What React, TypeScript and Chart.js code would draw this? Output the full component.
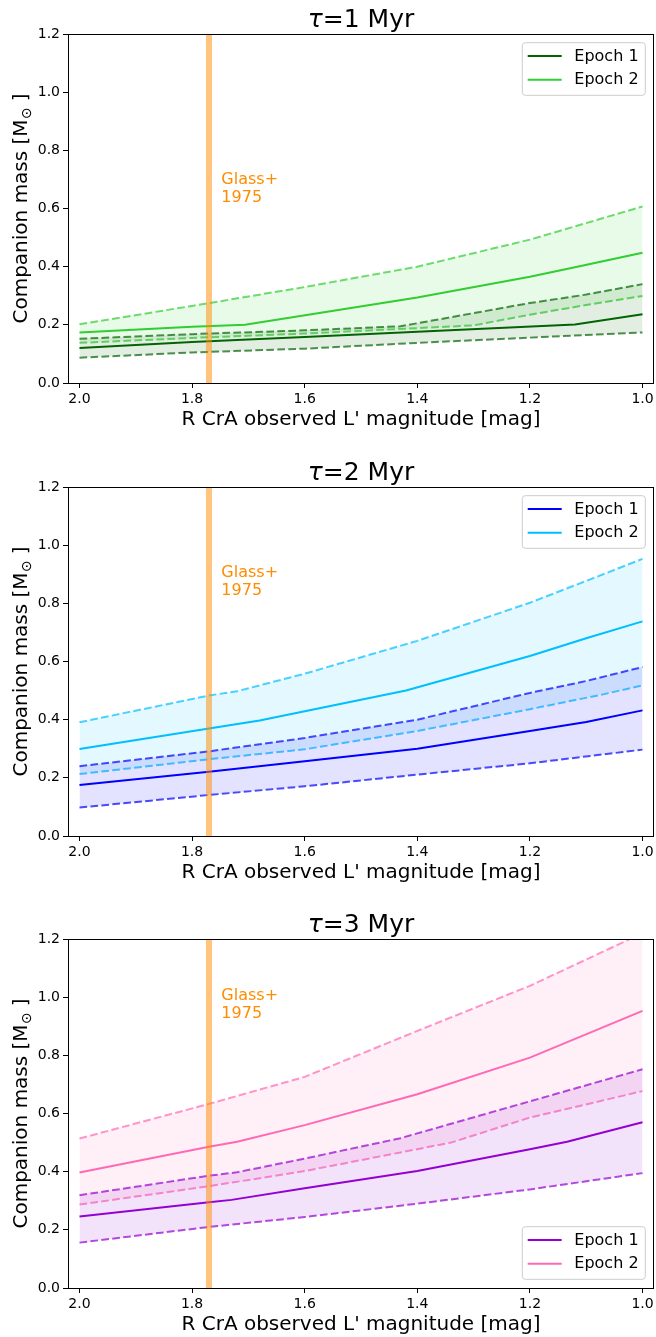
import { useEffect, useRef } from "react";
import { Chart, registerables } from "chart.js";

Chart.register(...registerables);

// ---------- data ----------
const xTickValues = [1.0, 1.2, 1.4, 1.6, 1.8, 2.0];
const yTickValues = [0.0, 0.2, 0.4, 0.6, 0.8, 1.0, 1.2];
const legendLabels = ["Epoch 1", "Epoch 2"];
const ages = ["1", "2", "3"];
const glassMag = 1.77;
const glassTextY = [0.7, 0.905, 1.003];

// tau = 1 Myr
const t1E1MedX = [2.0, 1.8, 1.6, 1.4, 1.12, 1.0];
const t1E1MedY = [0.12, 0.141, 0.158, 0.176, 0.201, 0.236];
const t1E1LoX = [2.0, 1.8, 1.6, 1.4, 1.2, 1.0];
const t1E1LoY = [0.087, 0.105, 0.118, 0.138, 0.156, 0.174];
const t1E1UpX = [2.0, 1.8, 1.6, 1.43, 1.2, 1.1, 1.0];
const t1E1UpY = [0.152, 0.168, 0.181, 0.195, 0.275, 0.304, 0.34];
const t1E2MedX = [2.0, 1.8, 1.706, 1.4, 1.2, 1.12, 1.0];
const t1E2MedY = [0.174, 0.193, 0.2, 0.294, 0.365, 0.398, 0.448];
const t1E2LoX = [2.0, 1.8, 1.6, 1.3, 1.2, 1.1, 1.0];
const t1E2LoY = [0.138, 0.155, 0.17, 0.198, 0.235, 0.268, 0.299];
const t1E2UpX = [2.0, 1.8, 1.6, 1.4, 1.2, 1.0];
const t1E2UpY = [0.202, 0.265, 0.33, 0.4, 0.493, 0.607];

// tau = 2 Myr
const t2E1MedX = [2.0, 1.77, 1.6, 1.4, 1.2, 1.1, 1.0];
const t2E1MedY = [0.175, 0.221, 0.257, 0.3, 0.361, 0.392, 0.432];
const t2E1LoX = [2.0, 1.77, 1.6, 1.4, 1.2, 1.0];
const t2E1LoY = [0.098, 0.141, 0.171, 0.211, 0.25, 0.297];
const t2E1UpX = [2.0, 1.77, 1.6, 1.4, 1.2, 1.1, 1.0];
const t2E1UpY = [0.24, 0.291, 0.337, 0.4, 0.492, 0.533, 0.581];
const t2E2MedX = [2.0, 1.77, 1.68, 1.42, 1.2, 1.1, 1.0];
const t2E2MedY = [0.299, 0.37, 0.397, 0.5, 0.619, 0.68, 0.738];
const t2E2LoX = [2.0, 1.77, 1.6, 1.4, 1.2, 1.07, 1.0];
const t2E2LoY = [0.213, 0.264, 0.298, 0.361, 0.436, 0.487, 0.518];
const t2E2UpX = [2.0, 1.77, 1.72, 1.6, 1.4, 1.2, 1.1, 1.0];
const t2E2UpY = [0.391, 0.483, 0.498, 0.558, 0.671, 0.802, 0.877, 0.953];

// tau = 3 Myr
const t3E1MedX = [2.0, 1.77, 1.73, 1.6, 1.4, 1.2, 1.134, 1.0];
const t3E1MedY = [0.246, 0.295, 0.303, 0.343, 0.402, 0.477, 0.503, 0.57];
const t3E1LoX = [2.0, 1.77, 1.6, 1.4, 1.2, 1.0];
const t3E1LoY = [0.156, 0.21, 0.244, 0.29, 0.339, 0.395];
const t3E1UpX = [2.0, 1.77, 1.72, 1.6, 1.43, 1.2, 1.0];
const t3E1UpY = [0.319, 0.386, 0.398, 0.445, 0.515, 0.642, 0.752];
const t3E2MedX = [2.0, 1.77, 1.72, 1.6, 1.4, 1.2, 1.0];
const t3E2MedY = [0.397, 0.486, 0.503, 0.56, 0.666, 0.792, 0.953];
const t3E2LoX = [2.0, 1.77, 1.6, 1.34, 1.2, 1.0];
const t3E2LoY = [0.287, 0.35, 0.402, 0.5, 0.586, 0.677];
const t3E2UpX = [2.0, 1.77, 1.6, 1.4, 1.2, 1.0];
const t3E2UpY = [0.514, 0.633, 0.726, 0.884, 1.039, 1.22];

const epochColors = [
  ["#006400", "#32cd32"],
  ["#0000ff", "#00bfff"],
  ["#9400d3", "#ff69b4"],
];
const legendAtBottom = [false, false, true];

// ---------- layout ----------
const FONT = "'DejaVu Sans', 'Liberation Sans', sans-serif";
const canvasTops = [0, 453, 905];
const canvasHeights = [453, 452, 432];
const PLOT_TOP = 34;
const PLOT_BOTTOM = 383;
const PLOT_LEFT = 68;
const PLOT_RIGHT = 654;

function rgba(hex: string, a: number) {
  const r = parseInt(hex.slice(1, 3), 16);
  const g = parseInt(hex.slice(3, 5), 16);
  const b = parseInt(hex.slice(5, 7), 16);
  return `rgba(${r},${g},${b},${a})`;
}

function pts(xs: number[], ys: number[]) {
  return xs.map((x, i) => ({ x, y: ys[i] }));
}

const panelData = [
  [
    [t1E1LoX, t1E1LoY, t1E1UpX, t1E1UpY, t1E1MedX, t1E1MedY],
    [t1E2LoX, t1E2LoY, t1E2UpX, t1E2UpY, t1E2MedX, t1E2MedY],
  ],
  [
    [t2E1LoX, t2E1LoY, t2E1UpX, t2E1UpY, t2E1MedX, t2E1MedY],
    [t2E2LoX, t2E2LoY, t2E2UpX, t2E2UpY, t2E2MedX, t2E2MedY],
  ],
  [
    [t3E1LoX, t3E1LoY, t3E1UpX, t3E1UpY, t3E1MedX, t3E1MedY],
    [t3E2LoX, t3E2LoY, t3E2UpX, t3E2UpY, t3E2MedX, t3E2MedY],
  ],
];

const DASH = [7.7, 3.3];

function buildDatasets(idx: number) {
  const ds: any[] = [];
  panelData[idx].forEach((ep, e) => {
    const c = epochColors[idx][e];
    const base = ds.length;
    ds.push({
      data: pts(ep[0], ep[1]),
      borderColor: rgba(c, 0.7),
      borderDash: DASH,
      borderWidth: 2,
      fill: false,
    });
    ds.push({
      data: pts(ep[2], ep[3]),
      borderColor: rgba(c, 0.7),
      borderDash: DASH,
      borderWidth: 2,
      fill: base,
      backgroundColor: rgba(c, 0.11),
    });
    ds.push({
      data: pts(ep[4], ep[5]),
      borderColor: c,
      borderWidth: 2,
      fill: false,
    });
  });
  return ds;
}

function decorPlugin(idx: number) {
  return {
    id: "decor" + idx,
    afterDatasetsDraw(chart: any) {
      const { ctx, chartArea: a, scales } = chart;
      const px = scales.x.getPixelForValue(glassMag);
      ctx.save();
      ctx.beginPath();
      ctx.rect(a.left, a.top, a.right - a.left, a.bottom - a.top);
      ctx.clip();
      ctx.fillStyle = "rgba(255,140,0,0.5)";
      ctx.fillRect(px - 3, a.top, 6, a.bottom - a.top);
      ctx.restore();
    },
    afterDraw(chart: any) {
      const { ctx, chartArea: a, scales } = chart;
      ctx.save();
      // frame
      ctx.strokeStyle = "#000";
      ctx.lineWidth = 1;
      ctx.strokeRect(Math.round(a.left) + 0.5, Math.round(a.top) + 0.5, Math.round(a.right - a.left) - 1, Math.round(a.bottom - a.top));

      // Glass+ 1975 label
      ctx.fillStyle = "#ff8c00";
      ctx.font = `16px ${FONT}`;
      ctx.textAlign = "left";
      ctx.textBaseline = "middle";
      const gx = scales.x.getPixelForValue(1.748);
      const gy = scales.y.getPixelForValue(glassTextY[idx]);
      ctx.fillText("Glass+", gx, gy);
      ctx.fillText("1975", gx, gy + 18);

      // title
      ctx.fillStyle = "#000";
      ctx.textBaseline = "alphabetic";
      const cx = (a.left + a.right) / 2;
      ctx.font = `italic 25px ${FONT}`;
      const w1 = ctx.measureText("τ").width;
      ctx.font = `25px ${FONT}`;
      const t2 = "=" + ages[idx] + " Myr";
      const w2 = ctx.measureText(t2).width;
      const sx = cx - (w1 + w2) / 2;
      ctx.font = `italic 25px ${FONT}`;
      ctx.fillText("τ", sx, a.top - 7);
      ctx.font = `25px ${FONT}`;
      ctx.fillText(t2, sx + w1, a.top - 7);

      // x title
      ctx.font = `20px ${FONT}`;
      ctx.textAlign = "center";
      ctx.fillText("R CrA observed L' magnitude [mag]", cx, a.bottom + 42);

      // y title (rotated, with subscript)
      const cy = (a.top + a.bottom) / 2;
      ctx.save();
      ctx.translate(27, cy);
      ctx.rotate(-Math.PI / 2);
      ctx.textAlign = "left";
      const p1 = "Companion mass [M";
      const p2 = "⊙";
      const p3 = " ]";
      ctx.font = `20px ${FONT}`;
      const m1 = ctx.measureText(p1).width;
      const m3 = ctx.measureText(p3).width;
      ctx.font = `14px ${FONT}`;
      const m2 = ctx.measureText(p2).width;
      const total = m1 + m2 + m3;
      let x0 = -total / 2;
      ctx.font = `20px ${FONT}`;
      ctx.fillText(p1, x0, 0);
      ctx.font = `14px ${FONT}`;
      ctx.fillText(p2, x0 + m1 + 0.5, 4);
      ctx.font = `20px ${FONT}`;
      ctx.fillText(p3, x0 + m1 + m2, 0);
      ctx.restore();

      // legend
      const bw = 123;
      const bh = 52.6;
      const bx = a.right - 8.7 - bw;
      const by = legendAtBottom[idx] ? a.bottom - 8.7 - bh : a.top + 8.7;
      ctx.beginPath();
      const r = 3;
      ctx.moveTo(bx + r, by);
      ctx.lineTo(bx + bw - r, by);
      ctx.arcTo(bx + bw, by, bx + bw, by + r, r);
      ctx.lineTo(bx + bw, by + bh - r);
      ctx.arcTo(bx + bw, by + bh, bx + bw - r, by + bh, r);
      ctx.lineTo(bx + r, by + bh);
      ctx.arcTo(bx, by + bh, bx, by + bh - r, r);
      ctx.lineTo(bx, by + r);
      ctx.arcTo(bx, by, bx + r, by, r);
      ctx.closePath();
      ctx.fillStyle = "rgba(255,255,255,0.8)";
      ctx.fill();
      ctx.strokeStyle = "#cccccc";
      ctx.lineWidth = 1;
      ctx.stroke();
      ctx.font = `16px ${FONT}`;
      ctx.textBaseline = "middle";
      ctx.textAlign = "left";
      legendLabels.forEach((lab, i) => {
        const ly = by + 13.3 + i * 23.7;
        ctx.strokeStyle = epochColors[idx][i];
        ctx.lineWidth = 2;
        ctx.beginPath();
        ctx.moveTo(bx + 5.4, ly);
        ctx.lineTo(bx + 39.4, ly);
        ctx.stroke();
        ctx.fillStyle = "#000";
        ctx.fillText(lab, bx + 52, ly + 0.5);
      });
      ctx.restore();
    },
  };
}

function Panel({ idx }: { idx: number }) {
  const ref = useRef<HTMLCanvasElement | null>(null);
  useEffect(() => {
    if (!ref.current) return;
    const H = canvasHeights[idx];
    const chart = new Chart(ref.current, {
      type: "line",
      data: { datasets: buildDatasets(idx) },
      options: {
        animation: false,
        responsive: false,
        devicePixelRatio: 1,
        layout: { padding: { top: PLOT_TOP, right: 656 - PLOT_RIGHT, left: 0, bottom: 0 } },
        elements: { point: { radius: 0, hoverRadius: 0 }, line: { tension: 0 } },
        datasets: { line: { clip: 0 } as any },
        plugins: {
          legend: { display: false },
          title: { display: false },
          tooltip: { enabled: false },
        },
        events: [],
        scales: {
          x: {
            type: "linear",
            reverse: true,
            min: 0.9796,
            max: 2.0204,
            afterBuildTicks: (s: any) => {
              s.ticks = xTickValues.map((v) => ({ value: v }));
            },
            afterFit: (s: any) => {
              s.height = H - PLOT_BOTTOM;
            },
            grid: { drawOnChartArea: false, drawTicks: true, tickLength: 5, color: "#000", tickWidth: 1 },
            border: { display: false },
            ticks: {
              color: "#000",
              font: { family: FONT, size: 14 },
              padding: 3,
              maxRotation: 0,
              autoSkip: false,
              callback: (v: any) => Number(v).toFixed(1),
            },
          },
          y: {
            type: "linear",
            min: 0,
            max: 1.2,
            afterBuildTicks: (s: any) => {
              s.ticks = yTickValues.map((v) => ({ value: v }));
            },
            afterFit: (s: any) => {
              s.width = PLOT_LEFT;
            },
            grid: { drawOnChartArea: false, drawTicks: true, tickLength: 5, color: "#000", tickWidth: 1 },
            border: { display: false },
            ticks: {
              color: "#000",
              font: { family: FONT, size: 14 },
              padding: 3,
              autoSkip: false,
              callback: (v: any) => Number(v).toFixed(1),
            },
          },
        },
      },
      plugins: [decorPlugin(idx)],
    });
    return () => chart.destroy();
  }, [idx]);
  return (
    <canvas
      ref={ref}
      width={656}
      height={canvasHeights[idx]}
      style={{ position: "absolute", left: 0, top: canvasTops[idx], width: 656, height: canvasHeights[idx], display: "block" }}
    />
  );
}

export default function App() {
  return (
    <div style={{ position: "absolute", left: 0, top: 0, width: 656, height: 1337, background: "#fff", overflow: "hidden" }}>
      {[0, 1, 2].map((i) => (
        <Panel key={i} idx={i} />
      ))}
    </div>
  );
}
